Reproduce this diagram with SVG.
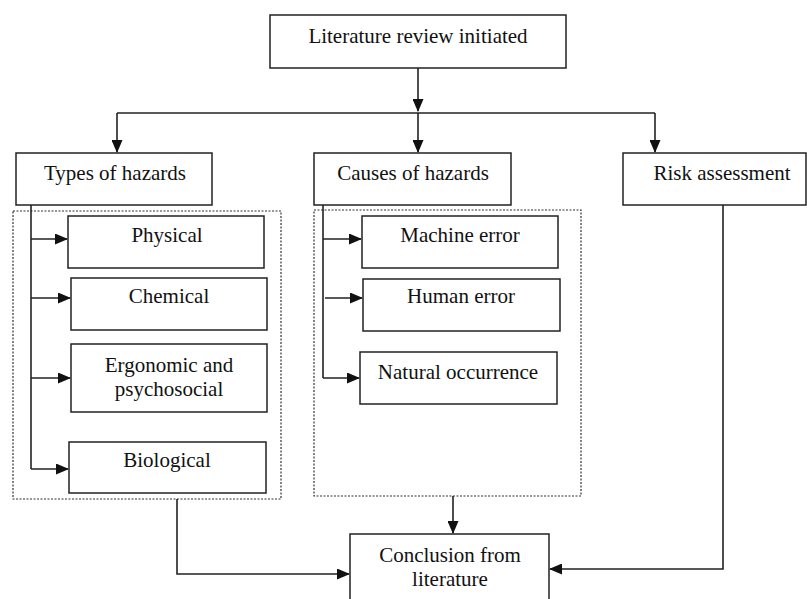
<svg xmlns="http://www.w3.org/2000/svg" width="807" height="599" viewBox="0 0 807 599">
<style>
.box{fill:#fff;stroke:#222;stroke-width:1.5}
.grp{fill:none;stroke:#333;stroke-width:1.2;stroke-dasharray:2,1.5}
.t{font-family:"Liberation Serif","Times New Roman",serif;font-size:21px;fill:#111;text-anchor:middle}
.c{fill:none;stroke:#222;stroke-width:1.6}
</style>
<defs>
<marker id="ah" markerWidth="13" markerHeight="11" refX="12" refY="5.5" orient="auto" markerUnits="userSpaceOnUse">
<path d="M0,0 L13,5.5 L0,11 Z" fill="#111"/>
</marker>
</defs>
<rect width="807" height="599" fill="#fff"/>
<g id="groups">
<rect class="grp" x="13" y="211" width="268" height="288"/>
<rect class="grp" x="314" y="210" width="267" height="286"/>
</g>
<g id="connectors">
<path class="c" d="M418,68 V111" marker-end="url(#ah)"/>
<path class="c" d="M117,113 H655"/>
<path class="c" d="M117,113 V152" marker-end="url(#ah)"/>
<path class="c" d="M418,113 V152" marker-end="url(#ah)"/>
<path class="c" d="M655,113 V152" marker-end="url(#ah)"/>
<path class="c" d="M31,205 V469"/>
<path class="c" d="M31,239 H67" marker-end="url(#ah)"/>
<path class="c" d="M31,298 H70" marker-end="url(#ah)"/>
<path class="c" d="M31,378 H70" marker-end="url(#ah)"/>
<path class="c" d="M31,469 H68" marker-end="url(#ah)"/>
<path class="c" d="M323,205 V378"/>
<path class="c" d="M323,239 H361" marker-end="url(#ah)"/>
<path class="c" d="M325,298 H362" marker-end="url(#ah)"/>
<path class="c" d="M323,378 H359" marker-end="url(#ah)"/>
<path class="c" d="M177,499 V574 H349" marker-end="url(#ah)"/>
<path class="c" d="M453,496 V533" marker-end="url(#ah)"/>
<path class="c" d="M723,205 V569 H550" marker-end="url(#ah)"/>
</g>
<g id="start"><rect class="box" x="270" y="15" width="296" height="53"/><text class="t" x="418" y="43">Literature review initiated</text></g>
<g id="types"><rect class="box" x="16" y="153" width="196" height="52"/><text class="t" x="115" y="180">Types of hazards</text></g>
<g id="causes"><rect class="box" x="314" y="153" width="197" height="52"/><text class="t" x="413" y="180">Causes of hazards</text></g>
<g id="risk"><rect class="box" x="623" y="153" width="183" height="52"/><text class="t" x="722" y="180">Risk assessment</text></g>
<g id="physical"><rect class="box" x="68" y="216" width="196" height="52"/><text class="t" x="167" y="242">Physical</text></g>
<g id="chemical"><rect class="box" x="71" y="278" width="196" height="52"/><text class="t" x="169" y="303">Chemical</text></g>
<g id="ergonomic"><rect class="box" x="71" y="344" width="196" height="68"/><text class="t" x="169" y="372">Ergonomic and</text><text class="t" x="169" y="396">psychosocial</text></g>
<g id="biological"><rect class="box" x="69" y="442" width="197" height="51"/><text class="t" x="167" y="467">Biological</text></g>
<g id="machine"><rect class="box" x="362" y="216" width="196" height="52"/><text class="t" x="460" y="242">Machine error</text></g>
<g id="human"><rect class="box" x="363" y="279" width="197" height="52"/><text class="t" x="461" y="303">Human error</text></g>
<g id="natural"><rect class="box" x="360" y="352" width="197" height="52"/><text class="t" x="458" y="379">Natural occurrence</text></g>
<g id="conclusion"><rect class="box" x="350" y="534" width="199" height="70"/><text class="t" x="450" y="562">Conclusion from</text><text class="t" x="450" y="586">literature</text></g>
</svg>
